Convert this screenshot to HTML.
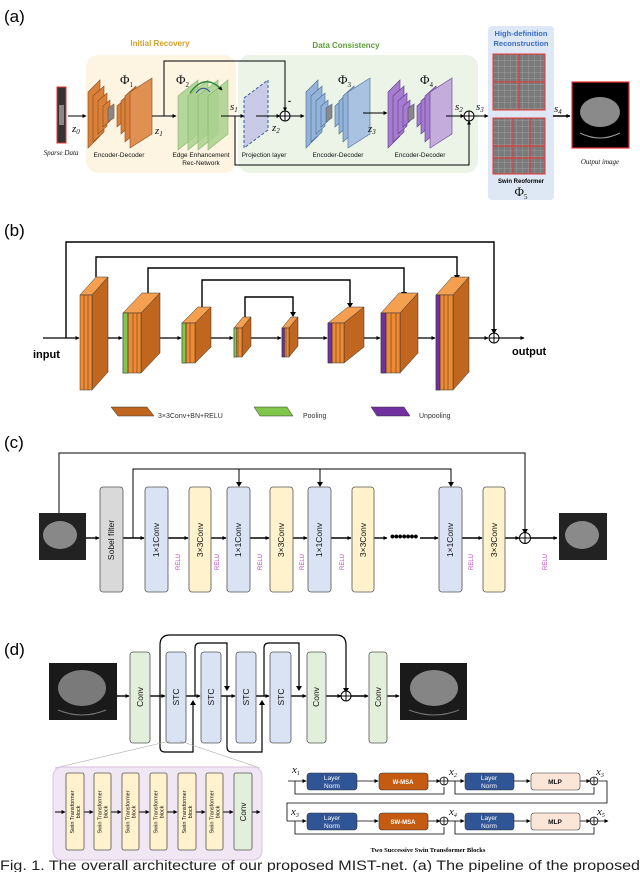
<!DOCTYPE html>
<html><head><meta charset="utf-8"><style>
html,body{margin:0;padding:0;background:#fff;}
svg{display:block;font-family:"Liberation Sans",sans-serif;}
.lb{font-size:6.5px;fill:#111;text-anchor:middle;}
.ph{font-family:"Liberation Serif",serif;font-size:13px;fill:#111;}
.it{font-family:"Liberation Serif",serif;font-style:italic;font-size:11px;fill:#111;}
.bx{stroke:#555;stroke-width:0.8;}
.rt{font-size:8.5px;fill:#111;text-anchor:middle;}
.relu{font-size:6px;fill:#c040c0;text-anchor:middle;}
</style></head><body>
<svg width="640" height="872" viewBox="0 0 640 872" xmlns="http://www.w3.org/2000/svg">
<defs>
<marker id="a" markerWidth="6" markerHeight="6" refX="5" refY="3" orient="auto" markerUnits="userSpaceOnUse"><path d="M0,0L6,3L0,6z" fill="#000"/></marker>
<marker id="as" markerWidth="4" markerHeight="4" refX="3.5" refY="2" orient="auto" markerUnits="userSpaceOnUse"><path d="M0,0L4,2L0,4z" fill="#000"/></marker>
<pattern id="grid" width="6" height="6" patternUnits="userSpaceOnUse"><rect width="6" height="6" fill="#7a7a7a"/><path d="M0,0H6M0,0V6" stroke="#ccc" stroke-width="0.4"/></pattern>
</defs>

<!-- ===== (a) ===== -->
<text x="4" y="22" font-size="17">(a)</text>
<rect x="86" y="55" width="150" height="118" rx="12" fill="#fdf5e2"/>
<rect x="238" y="55" width="240" height="118" rx="12" fill="#ebf4e7"/>
<text x="160" y="46" font-size="8" font-weight="bold" fill="#d4a02a" text-anchor="middle">Initial Recovery</text>
<text x="346" y="48" font-size="8" font-weight="bold" fill="#5f9b3c" text-anchor="middle">Data Consistency</text>
<rect x="488" y="26" width="66" height="174" rx="4" fill="#dde8f4"/>
<text x="521" y="36" font-size="7.5" font-weight="bold" fill="#3b6cc4" text-anchor="middle">High-definition</text>
<text x="521" y="46" font-size="7.5" font-weight="bold" fill="#3b6cc4" text-anchor="middle">Reconstruction</text>
<rect x="493" y="54" width="52" height="56" fill="url(#grid)" stroke="#e33" stroke-width="1"/>
<path d="M519,54V110M493,82H545" stroke="#e33" stroke-width="1"/>
<rect x="493" y="118" width="52" height="56" fill="url(#grid)" stroke="#e33" stroke-width="1"/>
<path d="M493,146H545M493,158H545M513,118V174M530,118V174" stroke="#e33" stroke-width="1"/>
<text x="521" y="183" font-size="6" font-weight="bold" text-anchor="middle">Swin Reoformer</text>
<text x="521" y="196" class="ph" text-anchor="middle">Φ<tspan font-size="7" dy="3">5</tspan></text>

<rect x="57" y="87" width="9" height="56" fill="#333" stroke="#e33" stroke-width="1"/>
<rect x="59" y="105" width="5" height="20" fill="#888"/>
<text x="61" y="155" class="it" style="font-size:7px" text-anchor="middle">Sparse Data</text>
<line x1="68" y1="116" x2="86" y2="116" stroke="#000" stroke-width="1" marker-end="url(#as)"/>
<text x="72" y="132" class="it">z<tspan font-size="7" dy="2">0</tspan></text>

<!-- enc-dec 1 -->
<g fill="#d9803a" stroke="#8a4a1a" stroke-width="0.6">
<polygon points="88,92 100,80 100,136 88,148"/>
<polygon points="93,96 104,86 104,132 93,142"/>
<polygon points="98,101 107,93 107,126 98,134"/>
<polygon points="103,106 110,100 110,121 103,127"/>
<polygon points="108,108 114,104 114,118 108,122" fill="#888"/>
<polygon points="117,106 124,100 124,121 117,127"/>
<polygon points="121,101 130,93 130,126 121,134"/>
<polygon points="125,96 136,86 136,132 125,142"/>
<polygon points="130,92 152,78 152,134 130,148" fill="#e09050"/>
</g>
<text x="120" y="84" class="ph">Φ<tspan font-size="7" dy="3">1</tspan></text>
<text x="119" y="157" class="lb">Encoder-Decoder</text>
<line x1="152" y1="116" x2="176" y2="116" stroke="#000" marker-end="url(#as)"/>
<text x="155" y="134" class="it">z<tspan font-size="7" dy="2">1</tspan></text>
<polyline points="164,116 164,61 285,61 285,111" fill="none" stroke="#000" marker-end="url(#as)"/>

<!-- edge enhancement -->
<g fill="#a9d18e" fill-opacity="0.85" stroke="#86b26a" stroke-width="0.6">
<polygon points="178,96 198,80 198,134 178,150"/>
<polygon points="188,96 208,80 208,134 188,150"/>
<polygon points="198,96 218,80 218,134 198,150"/>
<polygon points="208,96 228,80 228,134 208,150"/>
</g>
<path d="M190,93 Q205,72 222,90" fill="none" stroke="#2e8b3a" stroke-width="1.5" marker-end="url(#as)"/>
<path d="M196,93 Q203,84 210,92" fill="none" stroke="#2a4aa0" stroke-width="1"/>
<text x="176" y="84" class="ph">Φ<tspan font-size="7" dy="3">2</tspan></text>
<text x="201" y="157" class="lb">Edge Enhancement</text>
<text x="201" y="165" class="lb">Rec-Network</text>
<text x="230" y="110" class="it">s<tspan font-size="7" dy="2">1</tspan></text>
<line x1="221" y1="116" x2="244" y2="116" stroke="#000" marker-end="url(#as)"/>
<polyline points="235,116 235,165 469,165 469,121" fill="none" stroke="#000" marker-end="url(#as)"/>

<!-- projection -->
<polygon points="244,98 268,80 268,130 244,148" fill="#c9cbe6" stroke="#3a5fa0" stroke-dasharray="3,2" stroke-width="1"/>
<text x="264" y="157" class="lb">Projection layer</text>
<line x1="256" y1="116" x2="280" y2="116" stroke="#000" marker-end="url(#as)"/>
<text x="272" y="131" class="it">z<tspan font-size="7" dy="2">2</tspan></text>
<circle cx="285" cy="116" r="5" fill="#fff" stroke="#000"/><path d="M280,116H290M285,111V121" stroke="#000"/>
<text x="288" y="104" font-size="9" font-weight="bold">-</text>
<line x1="290" y1="116" x2="304" y2="116" stroke="#000" marker-end="url(#as)"/>

<!-- enc-dec 3 -->
<g fill="#93b3da" stroke="#4a6a90" stroke-width="0.6">
<polygon points="306,92 318,80 318,136 306,148"/>
<polygon points="311,96 322,86 322,132 311,142"/>
<polygon points="316,101 325,93 325,126 316,134"/>
<polygon points="321,106 328,100 328,121 321,127"/>
<polygon points="326,108 332,104 332,118 326,122" fill="#888"/>
<polygon points="335,106 342,100 342,121 335,127"/>
<polygon points="339,101 348,93 348,126 339,134"/>
<polygon points="343,96 354,86 354,132 343,142"/>
<polygon points="348,92 370,78 370,134 348,148" fill="#a9c2e2"/>
</g>
<text x="338" y="84" class="ph">Φ<tspan font-size="7" dy="3">3</tspan></text>
<text x="338" y="157" class="lb">Encoder-Decoder</text>
<text x="368" y="132" class="it">z<tspan font-size="7" dy="2">3</tspan></text>
<line x1="363" y1="113" x2="387" y2="113" stroke="#000" marker-end="url(#as)"/>

<!-- enc-dec 4 -->
<g fill="#a57ccf" stroke="#5e3a8a" stroke-width="0.6">
<polygon points="388,92 400,80 400,136 388,148"/>
<polygon points="393,96 404,86 404,132 393,142"/>
<polygon points="398,101 407,93 407,126 398,134"/>
<polygon points="403,106 410,100 410,121 403,127"/>
<polygon points="408,108 414,104 414,118 408,122" fill="#888"/>
<polygon points="417,106 424,100 424,121 417,127"/>
<polygon points="421,101 430,93 430,126 421,134"/>
<polygon points="425,96 436,86 436,132 425,142"/>
<polygon points="430,92 452,78 452,134 430,148" fill="#c4acdc"/>
</g>
<text x="420" y="84" class="ph">Φ<tspan font-size="7" dy="3">4</tspan></text>
<text x="420" y="157" class="lb">Encoder-Decoder</text>
<text x="455" y="110" class="it">s<tspan font-size="7" dy="2">2</tspan></text>
<line x1="446" y1="116" x2="464" y2="116" stroke="#000" marker-end="url(#as)"/>
<circle cx="469" cy="116" r="5" fill="#fff" stroke="#000"/><path d="M464,116H474M469,111V121" stroke="#000"/>
<text x="476" y="110" class="it">s<tspan font-size="7" dy="2">3</tspan></text>
<line x1="474" y1="116" x2="488" y2="116" stroke="#000" marker-end="url(#as)"/>
<text x="554" y="112" class="it">s<tspan font-size="7" dy="2">4</tspan></text>
<line x1="553" y1="116" x2="570" y2="116" stroke="#000" stroke-width="1.4" marker-end="url(#as)"/>
<rect x="572" y="82" width="57" height="66" fill="#000" stroke="#e33" stroke-width="1.2"/>
<ellipse cx="600" cy="112" rx="20" ry="15" fill="#8a8a8a"/>
<path d="M580,133 Q600,143 620,133" stroke="#999" fill="none"/>
<text x="600" y="164" class="it" style="font-size:7px" text-anchor="middle">Output image</text>

<!-- ===== (b) ===== -->
<text x="4" y="236" font-size="17">(b)</text>
<g fill="none" stroke="#000" stroke-width="1.4">
<polyline points="66,338 66,242 494,242 494,331"/>
<polyline points="96,277 96,257 457,257 457,279"/>
<polyline points="148,293 148,268 404,268 404,296"/>
<polyline points="202,307 202,280 350,280 350,307"/>
<polyline points="245,317 245,297 293,297 293,316"/>
</g>
<path d="M491,329L494,334L497,329z M454,275L457,280L460,275z M401,292L404,297L407,292z M347,303L350,308L353,303z M290,312L293,317L296,312z"/>
<g stroke="#000" stroke-width="1.2">
<line x1="43" y1="338" x2="79" y2="338" marker-end="url(#as)"/>
<line x1="100" y1="338" x2="122" y2="338" marker-end="url(#as)"/>
<line x1="152" y1="338" x2="181" y2="338" marker-end="url(#as)"/>
<line x1="204" y1="338" x2="233" y2="338" marker-end="url(#as)"/>
<line x1="246" y1="338" x2="281" y2="338" marker-end="url(#as)"/>
<line x1="293" y1="338" x2="327" y2="338" marker-end="url(#as)"/>
<line x1="354" y1="338" x2="380" y2="338" marker-end="url(#as)"/>
<line x1="410" y1="338" x2="435" y2="338" marker-end="url(#as)"/>
<line x1="462" y1="338" x2="488" y2="338" marker-end="url(#as)"/>
<line x1="499" y1="338" x2="524" y2="338" marker-end="url(#as)"/>
</g>
<circle cx="494" cy="338" r="5" fill="#fff" stroke="#000"/><path d="M489,338H499M494,333V343" stroke="#000"/>
<text x="33" y="358" font-size="11" font-weight="bold">input</text>
<text x="512" y="355" font-size="11" font-weight="bold">output</text>

<g stroke="#333" stroke-width="0.5">
<polygon points="80,295 96,277 108,277 92,295" fill="#f4a050"/>
<polygon points="92,295 108,277 108,372 92,390" fill="#c0661e"/>
<rect x="80" y="295" width="12" height="95" fill="#f08a30"/><path d="M84,295V390M88,295V390" stroke="#333"/>
<polygon points="123,313 142,293 160,293 141,313" fill="#f4a050"/>
<polygon points="141,313 160,293 160,353 141,373" fill="#c0661e"/>
<rect x="123" y="313" width="18" height="60" fill="#f08a30"/><rect x="123" y="313" width="5" height="60" fill="#7fc64a"/><path d="M128,313V373M133,313V373M137,313V373" stroke="#333"/>
<polygon points="182,323 198,307 211,307 195,323" fill="#f4a050"/>
<polygon points="195,323 211,307 211,347 195,363" fill="#c0661e"/>
<rect x="182" y="323" width="13" height="40" fill="#f08a30"/><rect x="182" y="323" width="4" height="40" fill="#7fc64a"/><path d="M186,323V363M190,323V363" stroke="#333"/>
<polygon points="234,328 243,317 251,317 242,328" fill="#f4a050"/>
<polygon points="242,328 251,317 251,346 242,357" fill="#c0661e"/>
<rect x="234" y="328" width="8" height="29" fill="#f08a30"/><rect x="234" y="328" width="2.5" height="29" fill="#7fc64a"/><path d="M238,328V357" stroke="#333"/>
<polygon points="282,328 291,317 298,317 289,328" fill="#f4a050"/>
<polygon points="289,328 298,317 298,346 289,357" fill="#c0661e"/>
<rect x="282" y="328" width="7" height="29" fill="#f08a30"/><rect x="282" y="328" width="2.5" height="29" fill="#6a2fa0"/><path d="M286,328V357" stroke="#333"/>
<polygon points="328,323 348,307 364,307 344,323" fill="#f4a050"/>
<polygon points="344,323 364,307 364,347 344,363" fill="#c0661e"/>
<rect x="328" y="323" width="16" height="40" fill="#f08a30"/><rect x="328" y="323" width="4" height="40" fill="#7030a0"/><path d="M332,323V363M336,323V363M340,323V363" stroke="#333"/>
<polygon points="381,313 399,293 418,293 400,313" fill="#f4a050"/>
<polygon points="400,313 418,293 418,353 400,373" fill="#c0661e"/>
<rect x="381" y="313" width="19" height="60" fill="#f08a30"/><rect x="381" y="313" width="5" height="60" fill="#7030a0"/><path d="M386,313V373M391,313V373M396,313V373" stroke="#333"/>
<polygon points="436,295 452,277 469,277 453,295" fill="#f4a050"/>
<polygon points="453,295 469,277 469,372 453,390" fill="#c0661e"/>
<rect x="436" y="295" width="17" height="95" fill="#f08a30"/><rect x="436" y="295" width="4" height="95" fill="#7030a0"/><path d="M440,295V390M444,295V390M448,295V390" stroke="#333"/>
</g>
<g stroke="#333" stroke-width="0.5">
<polygon points="111,407 147,407 154,416 118,416" fill="#c0661e"/>
<polygon points="254,407 287,407 293,416 260,416" fill="#7fc64a"/>
<polygon points="371,407 404,407 410,416 377,416" fill="#7030a0"/>
</g>
<text x="158" y="418" font-size="7" fill="#333">3×3Conv+BN+RELU</text>
<text x="303" y="418" font-size="7" fill="#333">Pooling</text>
<text x="419" y="418" font-size="7" fill="#333">Unpooling</text>

<!-- ===== (c) ===== -->
<text x="4" y="448" font-size="17">(c)</text>
<rect x="39" y="513" width="47" height="47" fill="#222"/>
<ellipse cx="60" cy="535" rx="17" ry="14" fill="#888"/>
<rect x="559" y="513" width="48" height="47" fill="#222"/>
<ellipse cx="582" cy="535" rx="17" ry="14" fill="#8a8a8a"/>
<g fill="none" stroke="#000" stroke-width="1">
<polyline points="59,513 59,453 525,453 525,531"/>
<polyline points="133,538 133,469 451,469 451,485"/>
<line x1="239" y1="469" x2="239" y2="485"/><line x1="320" y1="469" x2="320" y2="485"/>
</g>
<path d="M522,529L525,534L528,529z M448,482L451,487L454,482z M236,482L239,487L242,482z M317,482L320,487L323,482z"/>
<g stroke="#000" stroke-width="1.4">
<line x1="86" y1="538" x2="99" y2="538" marker-end="url(#as)"/>
<line x1="123" y1="538" x2="144" y2="538" marker-end="url(#as)"/>
<line x1="168" y1="538" x2="188" y2="538" marker-end="url(#as)"/>
<line x1="211" y1="538" x2="226" y2="538" marker-end="url(#as)"/>
<line x1="250" y1="538" x2="269" y2="538" marker-end="url(#as)"/>
<line x1="293" y1="538" x2="307" y2="538" marker-end="url(#as)"/>
<line x1="331" y1="538" x2="351" y2="538" marker-end="url(#as)"/>
<line x1="374" y1="538" x2="387" y2="538" marker-end="url(#as)"/>
<line x1="420" y1="538" x2="438" y2="538" marker-end="url(#as)"/>
<line x1="462" y1="538" x2="482" y2="538" marker-end="url(#as)"/>
<line x1="505" y1="538" x2="519" y2="538" marker-end="url(#as)"/>
<line x1="530" y1="538" x2="557" y2="538" marker-end="url(#as)"/>
</g>
<text x="390" y="541" font-size="14" font-weight="bold" letter-spacing="-1">•••••••</text>
<circle cx="525" cy="538" r="5.5" fill="#fff" stroke="#000"/><path d="M519.5,538H530.5M525,532.5V543.5" stroke="#000"/>
<g class="bx">
<rect x="100" y="487" width="23" height="105" rx="3" fill="#d9d9d9"/>
<rect x="145" y="487" width="23" height="105" rx="3" fill="#dae3f3"/>
<rect x="227" y="487" width="23" height="105" rx="3" fill="#dae3f3"/>
<rect x="308" y="487" width="23" height="105" rx="3" fill="#dae3f3"/>
<rect x="439" y="487" width="23" height="105" rx="3" fill="#dae3f3"/>
<rect x="189" y="487" width="22" height="105" rx="3" fill="#fff2cc"/>
<rect x="270" y="487" width="23" height="105" rx="3" fill="#fff2cc"/>
<rect x="352" y="487" width="22" height="105" rx="3" fill="#fff2cc"/>
<rect x="483" y="487" width="22" height="105" rx="3" fill="#fff2cc"/>
</g>
<g class="rt">
<text transform="translate(114,540) rotate(-90)">Sobel filter</text>
<text transform="translate(159,540) rotate(-90)">1×1Conv</text>
<text transform="translate(241,540) rotate(-90)">1×1Conv</text>
<text transform="translate(322,540) rotate(-90)">1×1Conv</text>
<text transform="translate(453,540) rotate(-90)">1×1Conv</text>
<text transform="translate(203,540) rotate(-90)">3×3Conv</text>
<text transform="translate(284,540) rotate(-90)">3×3Conv</text>
<text transform="translate(366,540) rotate(-90)">3×3Conv</text>
<text transform="translate(497,540) rotate(-90)">3×3Conv</text>
</g>
<g class="relu">
<text transform="translate(180,562) rotate(-90)">RELU</text>
<text transform="translate(219,562) rotate(-90)">RELU</text>
<text transform="translate(262,562) rotate(-90)">RELU</text>
<text transform="translate(304,562) rotate(-90)">RELU</text>
<text transform="translate(344,562) rotate(-90)">RELU</text>
<text transform="translate(473,562) rotate(-90)">RELU</text>
<text transform="translate(547,562) rotate(-90)">RELU</text>
</g>

<!-- ===== (d) ===== -->
<text x="4" y="655" font-size="17">(d)</text>
<rect x="49" y="663" width="68" height="57" fill="#1a1a1a"/>
<ellipse cx="82" cy="688" rx="24" ry="18" fill="#7a7a7a"/>
<path d="M58,710 Q82,720 106,710" stroke="#777" fill="none"/>
<rect x="400" y="663" width="67" height="57" fill="#1a1a1a"/>
<ellipse cx="434" cy="688" rx="24" ry="18" fill="#858585"/>
<path d="M409,710 Q434,720 459,710" stroke="#777" fill="none"/>
<g fill="none" stroke="#000" stroke-width="1.2">
<path d="M160,696 V645 Q160,635 170,635 H336 Q346,635 346,645 V690"/>
<path d="M195,696 V648 Q195,643 200,643 H227 V690"/>
<path d="M264,696 V648 Q264,643 269,643 H299 V690"/>
<path d="M160,696 V747 Q160,752 165,752 H193 V702"/>
<path d="M227,696 V747 Q227,752 232,752 H262 V702"/>
</g>
<path d="M343,688L346,693L349,688z M224,686L227,691L230,686z M296,686L299,691L302,686z M190,705L193,700L196,705z M259,705L262,700L265,705z"/>
<g stroke="#000" stroke-width="1.4">
<line x1="117" y1="696" x2="129" y2="696" marker-end="url(#as)"/>
<line x1="150" y1="696" x2="165" y2="696" marker-end="url(#as)"/>
<line x1="186" y1="696" x2="200" y2="696" marker-end="url(#as)"/>
<line x1="221" y1="696" x2="235" y2="696" marker-end="url(#as)"/>
<line x1="256" y1="696" x2="269" y2="696" marker-end="url(#as)"/>
<line x1="291" y1="696" x2="306" y2="696" marker-end="url(#as)"/>
<line x1="326" y1="696" x2="341" y2="696" marker-end="url(#as)"/>
<line x1="351" y1="696" x2="368" y2="696" marker-end="url(#as)"/>
<line x1="387" y1="696" x2="399" y2="696" marker-end="url(#as)"/>
</g>
<circle cx="346" cy="696" r="5" fill="#fff" stroke="#000"/><path d="M341,696H351M346,691V701" stroke="#000"/>
<g class="bx">
<rect x="130" y="652" width="20" height="91" rx="3" fill="#e2efda"/>
<rect x="307" y="652" width="19" height="91" rx="3" fill="#e2efda"/>
<rect x="369" y="652" width="18" height="91" rx="3" fill="#e2efda"/>
<rect x="166" y="652" width="20" height="91" rx="3" fill="#dae3f3"/>
<rect x="201" y="652" width="20" height="91" rx="3" fill="#dae3f3"/>
<rect x="236" y="652" width="20" height="91" rx="3" fill="#dae3f3"/>
<rect x="270" y="652" width="21" height="91" rx="3" fill="#dae3f3"/>
</g>
<g class="rt">
<text transform="translate(143,697) rotate(-90)">Conv</text>
<text transform="translate(319,697) rotate(-90)">Conv</text>
<text transform="translate(381,697) rotate(-90)">Conv</text>
<text transform="translate(179,697) rotate(-90)">STC</text>
<text transform="translate(214,697) rotate(-90)">STC</text>
<text transform="translate(249,697) rotate(-90)">STC</text>
<text transform="translate(284,697) rotate(-90)">STC</text>
</g>
<path d="M170,741 L55,768 M180,741 L260,768" stroke="#aaa" stroke-width="0.6"/>
<rect x="53" y="767" width="209" height="93" rx="9" fill="#f0e6f4" stroke="#d8c2e2"/>
<g stroke="#000" stroke-width="1">
<line x1="55" y1="812" x2="65" y2="812" marker-end="url(#as)"/>
<line x1="84" y1="812" x2="93" y2="812" marker-end="url(#as)"/>
<line x1="111" y1="812" x2="121" y2="812" marker-end="url(#as)"/>
<line x1="139" y1="812" x2="149" y2="812" marker-end="url(#as)"/>
<line x1="167" y1="812" x2="177" y2="812" marker-end="url(#as)"/>
<line x1="196" y1="812" x2="205" y2="812" marker-end="url(#as)"/>
<line x1="223" y1="812" x2="233" y2="812" marker-end="url(#as)"/>
<line x1="252" y1="812" x2="260" y2="812" marker-end="url(#as)"/>
</g>
<g class="bx">
<rect x="66" y="773" width="18" height="77" rx="2" fill="#fff2cc"/>
<rect x="94" y="773" width="17" height="77" rx="2" fill="#fff2cc"/>
<rect x="122" y="773" width="17" height="77" rx="2" fill="#fff2cc"/>
<rect x="150" y="773" width="17" height="77" rx="2" fill="#fff2cc"/>
<rect x="178" y="773" width="18" height="77" rx="2" fill="#fff2cc"/>
<rect x="206" y="773" width="17" height="77" rx="2" fill="#fff2cc"/>
<rect x="234" y="773" width="18" height="77" rx="2" fill="#e2efda"/>
</g>
<g font-size="5.5" fill="#111" text-anchor="middle">
<text transform="translate(75,812) rotate(-90)"><tspan x="0" dy="-1">Swin Transformer</tspan><tspan x="0" dy="6">block</tspan></text>
<text transform="translate(102.5,812) rotate(-90)"><tspan x="0" dy="-1">Swin Transformer</tspan><tspan x="0" dy="6">block</tspan></text>
<text transform="translate(130.5,812) rotate(-90)"><tspan x="0" dy="-1">Swin Transformer</tspan><tspan x="0" dy="6">block</tspan></text>
<text transform="translate(158.5,812) rotate(-90)"><tspan x="0" dy="-1">Swin Transformer</tspan><tspan x="0" dy="6">block</tspan></text>
<text transform="translate(187,812) rotate(-90)"><tspan x="0" dy="-1">Swin Transformer</tspan><tspan x="0" dy="6">block</tspan></text>
<text transform="translate(214.5,812) rotate(-90)"><tspan x="0" dy="-1">Swin Transformer</tspan><tspan x="0" dy="6">block</tspan></text>
</g>
<text transform="translate(246,812) rotate(-90)" class="rt" style="font-size:8px">Conv</text>

<g fill="none" stroke="#000" stroke-width="0.8">
<polyline points="295,781 295,794 444,794 444,787"/>
<polyline points="455,781 455,794 594,794 594,787"/>
<polyline points="599,781 607,781 607,803 287,803 287,821"/>
<polyline points="295,821 295,834 444,834 444,827"/>
<polyline points="455,821 455,834 594,834 594,827"/>
</g>
<g stroke="#000" stroke-width="0.8">
<line x1="288" y1="781" x2="306" y2="781" marker-end="url(#as)"/>
<line x1="357" y1="781" x2="378" y2="781" marker-end="url(#as)"/>
<line x1="428" y1="781" x2="440" y2="781" marker-end="url(#as)"/>
<line x1="448" y1="781" x2="464" y2="781" marker-end="url(#as)"/>
<line x1="514" y1="781" x2="530" y2="781" marker-end="url(#as)"/>
<line x1="580" y1="781" x2="590" y2="781" marker-end="url(#as)"/>
<line x1="287" y1="821" x2="306" y2="821" marker-end="url(#as)"/>
<line x1="357" y1="821" x2="378" y2="821" marker-end="url(#as)"/>
<line x1="428" y1="821" x2="440" y2="821" marker-end="url(#as)"/>
<line x1="448" y1="821" x2="464" y2="821" marker-end="url(#as)"/>
<line x1="514" y1="821" x2="530" y2="821" marker-end="url(#as)"/>
<line x1="580" y1="821" x2="590" y2="821" marker-end="url(#as)"/>
<line x1="598" y1="821" x2="608" y2="821" marker-end="url(#as)"/>
</g>
<g stroke="#333" stroke-width="0.6">
<rect x="307" y="773" width="50" height="17" rx="3" fill="#2f5597"/>
<rect x="379" y="773" width="49" height="17" rx="3" fill="#c55a11"/>
<rect x="465" y="773" width="49" height="17" rx="3" fill="#2f5597"/>
<rect x="531" y="773" width="49" height="17" rx="3" fill="#fbe5d6"/>
<rect x="307" y="813" width="50" height="17" rx="3" fill="#2f5597"/>
<rect x="379" y="813" width="49" height="17" rx="3" fill="#c55a11"/>
<rect x="465" y="813" width="49" height="17" rx="3" fill="#2f5597"/>
<rect x="531" y="813" width="49" height="17" rx="3" fill="#fbe5d6"/>
</g>
<g font-size="6.5" text-anchor="middle" fill="#fff">
<text x="332" y="780">Layer</text><text x="332" y="788">Norm</text>
<text x="489" y="780">Layer</text><text x="489" y="788">Norm</text>
<text x="332" y="820">Layer</text><text x="332" y="828">Norm</text>
<text x="489" y="820">Layer</text><text x="489" y="828">Norm</text>
<text x="403" y="784" font-weight="bold" font-size="6">W-MSA</text>
<text x="403" y="824" font-weight="bold" font-size="6">SW-MSA</text>
<text x="555" y="784" font-weight="bold" fill="#111">MLP</text>
<text x="555" y="824" font-weight="bold" fill="#111">MLP</text>
</g>
<g fill="#fff" stroke="#000" stroke-width="0.8">
<circle cx="444" cy="781" r="4"/><circle cx="594" cy="781" r="4"/>
<circle cx="444" cy="821" r="4"/><circle cx="594" cy="821" r="4"/>
</g>
<path d="M440,781H448M444,777V785M590,781H598M594,777V785M440,821H448M444,817V825M590,821H598M594,817V825" stroke="#000" stroke-width="0.8"/>
<g class="it">
<text x="292" y="773">x<tspan font-size="6" dy="2">1</tspan></text>
<text x="449" y="775">x<tspan font-size="6" dy="2">2</tspan></text>
<text x="596" y="775">x<tspan font-size="6" dy="2">3</tspan></text>
<text x="291" y="815">x<tspan font-size="6" dy="2">3</tspan></text>
<text x="449" y="815">x<tspan font-size="6" dy="2">4</tspan></text>
<text x="597" y="815">x<tspan font-size="6" dy="2">5</tspan></text>
</g>
<text x="428" y="852" font-family="Liberation Serif,serif" font-weight="bold" font-size="6.5" text-anchor="middle">Two Successive Swin Transformer Blocks</text>

<text x="0" y="870" font-size="13.5" fill="#222" textLength="640" lengthAdjust="spacingAndGlyphs">Fig. 1.   The overall architecture of our proposed MIST-net. (a) The pipeline of the proposed</text>
</svg>
</body></html>
